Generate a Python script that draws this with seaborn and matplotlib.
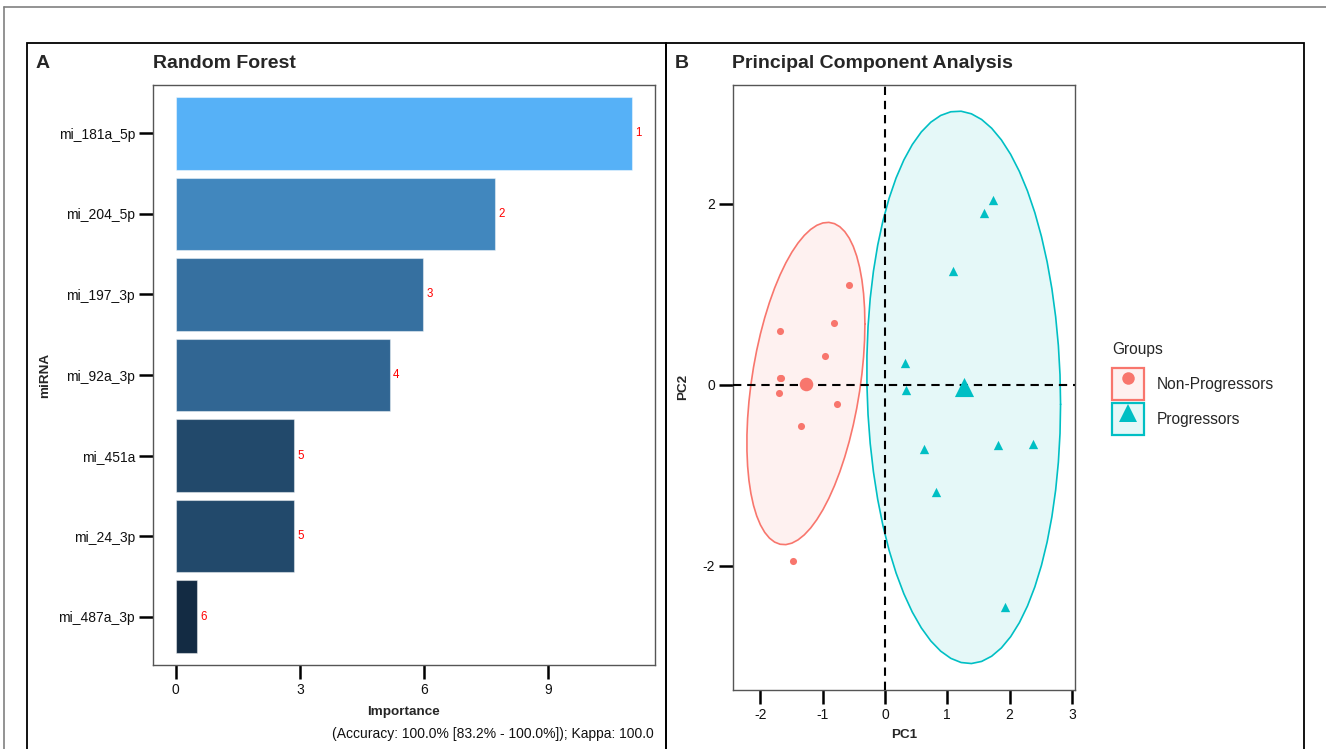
import numpy as np
import pandas as pd
import matplotlib
matplotlib.use("Agg")
import matplotlib.pyplot as plt
import seaborn as sns
from matplotlib.patches import Rectangle, Patch
from matplotlib.lines import Line2D
from matplotlib.legend_handler import HandlerTuple
from matplotlib.colors import to_rgb, to_rgba

# ---------------- data ----------------
mirna = ["mi_181a_5p", "mi_204_5p", "mi_197_3p", "mi_92a_3p", "mi_451a", "mi_24_3p", "mi_487a_3p"]
importance = [11.04, 7.73, 5.97, 5.17, 2.85, 2.85, 0.51]
rank_labels = ["1", "2", "3", "4", "5", "5", "6"]
importance_ticks = [0, 3, 6, 9]
caption = "(Accuracy: 100.0% [83.2% - 100.0%]); Kappa: 100.0"

nonprog_pc1 = [-0.58, -0.82, -1.68, -0.97, -1.67, -1.69, -1.70, -0.77, -1.35, -1.47]
nonprog_pc2 = [1.10, 0.68, 0.59, 0.32, 0.08, 0.07, -0.09, -0.21, -0.45, -1.95]
prog_pc1 = [1.73, 1.59, 1.09, 0.32, 0.33, 0.62, 1.82, 2.38, 0.82, 1.93]
prog_pc2 = [2.04, 1.90, 1.26, 0.24, -0.06, -0.71, -0.67, -0.65, -1.18, -2.45]
groups = ["Non-Progressors", "Progressors"]
group_colors = ["#F8766D", "#00BFC4"]
pc1_ticks = [-2, -1, 0, 1, 2, 3]
pc2_ticks = [-2, 0, 2]
ellipse_level = 0.90

# ---------------- style ----------------
sns.set_theme(style="white")
plt.rcParams["font.family"] = ["Liberation Sans", "DejaVu Sans"]
plt.rcParams["axes.unicode_minus"] = False

W, H = 1326, 749
fig = plt.figure(figsize=(W / 100, H / 100), dpi=100)
fig.patch.set_facecolor("white")


def fx(px):
    return px / W


def fy(py):
    return 1 - py / H


def style(ax):
    for s in ax.spines.values():
        s.set_visible(True)
        s.set_color("#555555")
        s.set_linewidth(1.0)
    ax.tick_params(axis="both", length=10, width=1.8, color="black",
                   labelsize=10, labelcolor="#111111", pad=3,
                   bottom=True, left=True)
    ax.grid(False)


# ---------------- frames ----------------
fig.add_artist(Line2D([fx(4), 1], [fy(7), fy(7)], color="#808080", lw=1.2, transform=fig.transFigure))
fig.add_artist(Line2D([fx(4), fx(4)], [fy(7), 0], color="#808080", lw=1.2, transform=fig.transFigure))
fig.add_artist(Rectangle((fx(27), -0.05), fx(666) - fx(27), fy(43) + 0.05, fill=False,
                         edgecolor="black", lw=1.3, transform=fig.transFigure))
fig.add_artist(Rectangle((fx(666), -0.05), fx(1304) - fx(666), fy(43) + 0.05, fill=False,
                         edgecolor="black", lw=1.3, transform=fig.transFigure))

# ---------------- panel A ----------------
axA = fig.add_axes([fx(153), fy(665), fx(655) - fx(153), fy(85) - fy(665)])
dfA = pd.DataFrame({"miRNA": mirna, "Importance": importance})
lo, hi = min(importance), max(importance)
c_lo, c_hi = np.array(to_rgb("#132B43")), np.array(to_rgb("#56B1F7"))
bar_cols = [tuple(c_lo + (v - lo) / (hi - lo) * (c_hi - c_lo)) for v in importance]
sns.barplot(data=dfA, x="Importance", y="miRNA", hue="miRNA", palette=bar_cols,
            legend=False, orient="h", width=0.9, saturation=1, ax=axA,
            edgecolor=(1, 1, 1, 0.45), linewidth=0.8)
for i, (v, lab) in enumerate(zip(importance, rank_labels)):
    axA.annotate(lab, xy=(v, i), xytext=(2.5, 0), textcoords="offset points",
                 ha="left", va="center", color="red", fontsize=8.3)
axA.set_xlim(-0.05 * hi, hi * 1.05)
axA.set_ylim(len(mirna) - 0.4, -0.6)
axA.set_xticks(importance_ticks)
style(axA)
axA.set_xlabel("Importance", fontweight="bold", fontsize=9.7)
axA.set_ylabel("miRNA", fontweight="bold", fontsize=9.7)
axA.xaxis.label.set_verticalalignment("center")
axA.yaxis.label.set_verticalalignment("center")
axA.xaxis.set_label_coords(0.5, -(712 - 665) / 580)
axA.yaxis.set_label_coords((45 - 153) / 502, 0.5)

fig.text(fx(36), fy(63), "A", fontsize=14, fontweight="bold", va="center", ha="left")
fig.text(fx(153), fy(63), "Random Forest", fontsize=14, fontweight="bold", va="center", ha="left")
fig.text(fx(654), fy(734), caption, fontsize=10, va="center", ha="right", color="#111111")

# ---------------- panel B ----------------
axB = fig.add_axes([fx(733), fy(690), fx(1075) - fx(733), fy(85) - fy(690)])
dfB = pd.DataFrame({
    "PC1": nonprog_pc1 + prog_pc1,
    "PC2": nonprog_pc2 + prog_pc2,
    "Groups": [groups[0]] * len(nonprog_pc1) + [groups[1]] * len(prog_pc1),
})
radius = np.sqrt(-2 * np.log(1 - ellipse_level))
t = np.linspace(0, 2 * np.pi, 60)
circ = np.column_stack([np.cos(t), np.sin(t)])
for g, c in zip(groups, group_colors):
    sub = dfB[dfB["Groups"] == g][["PC1", "PC2"]].to_numpy()
    mu = sub.mean(axis=0)
    L = np.linalg.cholesky(np.cov(sub.T))
    e = mu + radius * circ @ L.T
    axB.fill(e[:, 0], e[:, 1], facecolor=to_rgba(c, 0.1), edgecolor="none", zorder=1)
    axB.plot(e[:, 0], e[:, 1], color=c, lw=1.2, zorder=2)

axB.axhline(0, color="black", lw=1.5, ls=(0, (4, 2.8)), zorder=3)
axB.axvline(0, color="black", lw=1.5, ls=(0, (4, 2.8)), zorder=3)

markers = ["o", "^"]
point_sizes = [26, 45]
centroid_sizes = [95, 190]
means = dfB.groupby("Groups", as_index=False)[["PC1", "PC2"]].mean()
for g, c, m, s, cs in zip(groups, group_colors, markers, point_sizes, centroid_sizes):
    sns.scatterplot(data=dfB[dfB["Groups"] == g], x="PC1", y="PC2", color=c, marker=m,
                    s=s, linewidth=0, ax=axB, zorder=4, legend=False)
    sns.scatterplot(data=means[means["Groups"] == g], x="PC1", y="PC2", color=c, marker=m,
                    s=cs, linewidth=0, ax=axB, zorder=5, legend=False)

axB.set_xlim(-2.44, 3.05)
axB.set_ylim(-3.37, 3.31)
axB.set_xticks(pc1_ticks)
axB.set_yticks(pc2_ticks)
style(axB)
axB.set_xlabel("PC1", fontweight="bold", fontsize=9.7)
axB.set_ylabel("PC2", fontweight="bold", fontsize=9.7)
axB.xaxis.label.set_verticalalignment("center")
axB.yaxis.label.set_verticalalignment("center")
axB.xaxis.set_label_coords(0.5, -(735 - 690) / 605)
axB.yaxis.set_label_coords((683 - 733) / 342, (690 - 387) / 605)

fig.text(fx(675), fy(63), "B", fontsize=14, fontweight="bold", va="center", ha="left")
fig.text(fx(732), fy(63), "Principal Component Analysis", fontsize=14, fontweight="bold",
         va="center", ha="left")

handles = []
for c, m, ms in zip(group_colors, markers, [9, 12.5]):
    p = Patch(facecolor=to_rgba(c, 0.1), edgecolor=c, linewidth=1.6)
    l = Line2D([], [], marker=m, color=c, linestyle="none", markersize=ms, markeredgewidth=0)
    handles.append((p, l))
leg = axB.legend(handles, groups, handler_map={tuple: HandlerTuple(ndivide=1)},
                 title="Groups", loc="upper left", bbox_to_anchor=(fx(1112), fy(342)),
                 bbox_transform=fig.transFigure, frameon=False, fontsize=11.2,
                 title_fontsize=11.2, handlelength=2.05, handleheight=2.78,
                 labelspacing=0.2, handletextpad=0.85, borderpad=0, borderaxespad=0)
leg._legend_box.align = "left"
leg._legend_box.sep = 8

fig.savefig("out.png", dpi=100)
